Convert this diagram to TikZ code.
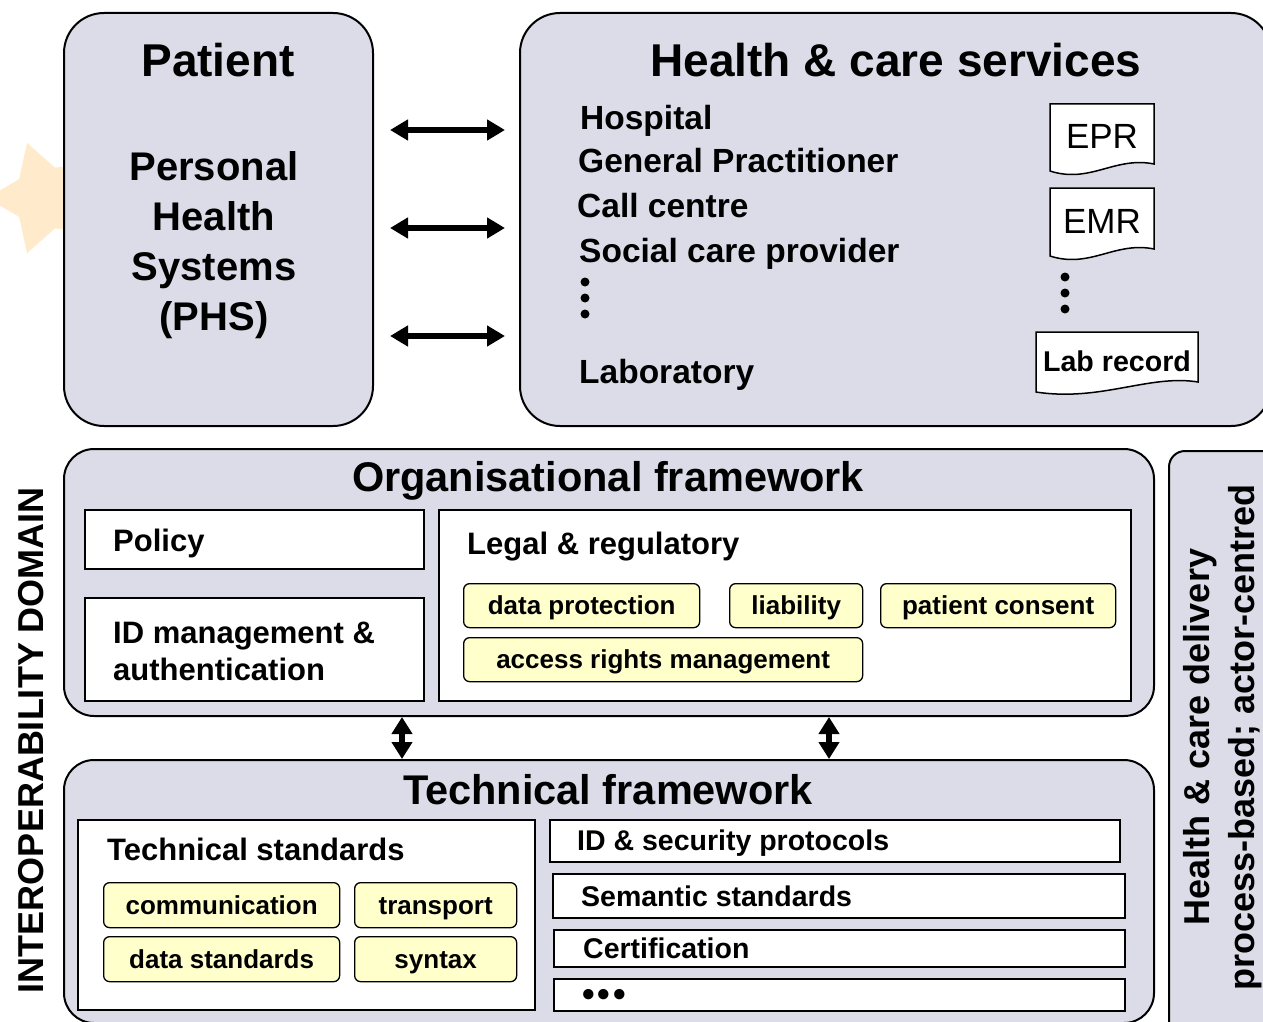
\documentclass[tikz,border=0pt]{standalone}
\usepackage{fontspec}
\setmainfont{Liberation Sans}
\usetikzlibrary{arrows.meta}
\definecolor{lav}{RGB}{220,220,233}
\definecolor{ylw}{RGB}{255,255,204}
\definecolor{starc}{RGB}{255,235,204}
\newcommand{\myfs}[1]{\fontsize{#1}{#1}\selectfont}
\begin{document}
\begin{tikzpicture}[x=1pt,y=-1pt,
  lavbox/.style={draw=black,line width=2pt,fill=lav,rounded corners=#1,inner sep=0pt,anchor=north west},
  lavbox/.default=30pt,
  wbox/.style={draw=black,line width=1.6pt,fill=white,inner sep=0pt,anchor=north west},
  ybox/.style={draw=black,line width=1.3pt,fill=ylw,rounded corners=6pt,inner sep=0pt,anchor=north west,
    font=\myfs{26}\bfseries,text height=18.6pt,text depth=0pt},
  docb/.style={draw=black,line width=1.5pt,fill=white},
  txt/.style={inner sep=0pt},
  dbl/.style={line width=6pt,{Triangle[length=18pt,width=20pt]}-{Triangle[length=18pt,width=20pt]}},
  vdbl/.style={line width=5.5pt,{Triangle[length=17pt,width=20pt]}-{Triangle[length=17pt,width=20pt]}},
  ]
\useasboundingbox (0,0) rectangle (1263,1022);
\clip (0,0) rectangle (1263,1022);
\fill[white] (0,0) rectangle (1263,1022);

% faint star behind the patient box
\fill[starc,shift={(45,198)}] (180:58) -- (216:32) -- (252:58) -- (288:32) -- (324:58) -- (0:32)
  -- (36:58) -- (72:32) -- (108:58) -- (144:32) -- cycle;

% top boxes
\node[lavbox=40pt,minimum width=309pt,minimum height=413pt] (pat) at (63,12) {};
\node[lavbox=40pt,minimum width=751pt,minimum height=413pt] (hcs) at (519,12) {};

\node[txt,anchor=base,font=\myfs{46}\bfseries] (patT) at (218,76.5) {Patient};
\node[txt,anchor=base,font=\myfs{40}\bfseries] (phs1) at (214,180.5) {Personal};
\node[txt,anchor=base,font=\myfs{40}\bfseries] (phs2) at (214,230.5) {Health};
\node[txt,anchor=base,font=\myfs{40}\bfseries] (phs3) at (214,280.5) {Systems};
\node[txt,anchor=base,font=\myfs{40}\bfseries] (phs4) at (214,330.5) {(PHS)};

\node[txt,anchor=base,font=\myfs{46}\bfseries] (hcsT) at (896,76.5) {Health \& care services};
\node[txt,anchor=base west,font=\myfs{33.5}\bfseries] (h1) at (580,130) {Hospital};
\node[txt,anchor=base west,font=\myfs{33.5}\bfseries] (h2) at (578,172) {General Practitioner};
\node[txt,anchor=base west,font=\myfs{33.5}\bfseries] (h3) at (577,217) {Call centre};
\node[txt,anchor=base west,font=\myfs{33.5}\bfseries] (h4) at (579,262) {Social care provider};
\node[txt,anchor=base west,font=\myfs{33.5}\bfseries] (h5) at (579,383) {Laboratory};
\foreach \yy in {282,298,314} \fill (585,\yy) circle (4.5);

% documents
\draw[docb] (1050,104) -- (1154,104) -- (1154,164) .. controls (1115,156) and (1090,184) .. (1050,171) -- cycle;
\node[txt,font=\myfs{35}] (epr) at (1102,136) {EPR};
\draw[docb] (1050,188) -- (1154,188) -- (1154,249) .. controls (1115,241) and (1090,269) .. (1050,256) -- cycle;
\node[txt,font=\myfs{35}] (emr) at (1102,221) {EMR};
\foreach \yy in {277,293,309} \fill (1065,\yy) circle (4.5);
\draw[docb] (1036,332) -- (1198,332) -- (1198,382) .. controls (1150,374) and (1100,402) .. (1036,392) -- cycle;
\node[txt,anchor=base,font=\myfs{28.6}\bfseries] (lab) at (1117,371) {Lab record};

% top arrows
\draw[dbl,shorten <=16pt,shorten >=14pt] (pat.east |- 0,130) -- (hcs.west |- 0,130);
\draw[dbl,shorten <=16pt,shorten >=14pt] (pat.east |- 0,228) -- (hcs.west |- 0,228);
\draw[dbl,shorten <=16pt,shorten >=14pt] (pat.east |- 0,336) -- (hcs.west |- 0,336);

% organisational framework
\node[lavbox=30pt,minimum width=1090pt,minimum height=267pt] (org) at (63,448) {};
\node[txt,anchor=base,font=\myfs{41.5}\bfseries] (orgT) at (608,491) {Organisational framework};
\node[wbox,minimum width=339pt,minimum height=59pt] (pol) at (84,509) {};
\node[txt,anchor=base west,font=\myfs{31}\bfseries] (polT) at (113,551) {Policy};
\node[wbox,minimum width=339pt,minimum height=103pt] (idm) at (84,597) {};
\node[txt,anchor=base west,font=\myfs{31}\bfseries] (idm1) at (113,643) {ID management \&};
\node[txt,anchor=base west,font=\myfs{31}\bfseries] (idm2) at (113,680) {authentication};
\node[wbox,minimum width=692pt,minimum height=191pt] (leg) at (438,509) {};
\node[txt,anchor=base west,font=\myfs{31}\bfseries] (legT) at (467,554) {Legal \& regulatory};
\node[ybox,minimum width=236pt,minimum height=44pt] (dp) at (463,583) {data protection};
\node[ybox,minimum width=133pt,minimum height=44pt] (lia) at (729,583) {liability};
\node[ybox,minimum width=235pt,minimum height=44pt] (pc) at (880,583) {patient consent};
\node[ybox,minimum width=399pt,minimum height=44pt] (arm) at (463,637) {access rights management};

% technical framework
\node[lavbox=30pt,minimum width=1090pt,minimum height=263pt] (tech) at (63,759) {};
\node[txt,anchor=base,font=\myfs{41.5}\bfseries] (techT) at (608,804) {Technical framework};
\node[wbox,minimum width=457pt,minimum height=190pt] (ts) at (77,819) {};
\node[txt,anchor=base west,font=\myfs{31}\bfseries] (tsT) at (107,860) {Technical standards};
\node[ybox,minimum width=236pt,minimum height=45pt] (com) at (103,882) {communication};
\node[ybox,minimum width=162pt,minimum height=45pt] (tra) at (354,882) {transport};
\node[ybox,minimum width=236pt,minimum height=45pt] (dst) at (103,936) {data standards};
\node[ybox,minimum width=162pt,minimum height=45pt] (syn) at (354,936) {syntax};

\node[wbox,minimum width=570pt,minimum height=42pt] (ids) at (549,819) {};
\node[txt,anchor=base west,font=\myfs{28.5}\bfseries] (idsT) at (577,850) {ID \& security protocols};
\node[wbox,minimum width=572pt,minimum height=44pt] (sem) at (552,873) {};
\node[txt,anchor=base west,font=\myfs{28.5}\bfseries] (semT) at (581,906) {Semantic standards};
\node[wbox,minimum width=571pt,minimum height=37pt] (cer) at (553,929) {};
\node[txt,anchor=base west,font=\myfs{28.5}\bfseries] (cerT) at (583,958) {Certification};
\node[wbox,minimum width=571pt,minimum height=32pt] (etc) at (553,978) {};
\node[txt,anchor=base west,font=\myfs{36}\bfseries] (etcT) at (582,1006) {•\hspace{3pt}•\hspace{3pt}•};

% vertical arrows
\draw[vdbl] (org.south -| 402,0) -- (tech.north -| 402,0);
\draw[vdbl] (org.south -| 829,0) -- (tech.north -| 829,0);

% right box
\node[lavbox=16pt,minimum width=112pt,minimum height=590pt] (hcd) at (1168,450) {};
\node[txt,rotate=90,font=\myfs{36}\bfseries,text height=25.8pt,text depth=0pt] (hcdT1) at (1197,737) {Health \& care delivery};
\node[txt,rotate=90,font=\myfs{36}\bfseries,text height=25.8pt,text depth=0pt] (hcdT2) at (1242,737) {process-based; actor-centred};

% left label
\node[txt,rotate=90,font=\myfs{36}\bfseries] (dom) at (31,740) {INTEROPERABILITY DOMAIN};
\end{tikzpicture}
\end{document}
